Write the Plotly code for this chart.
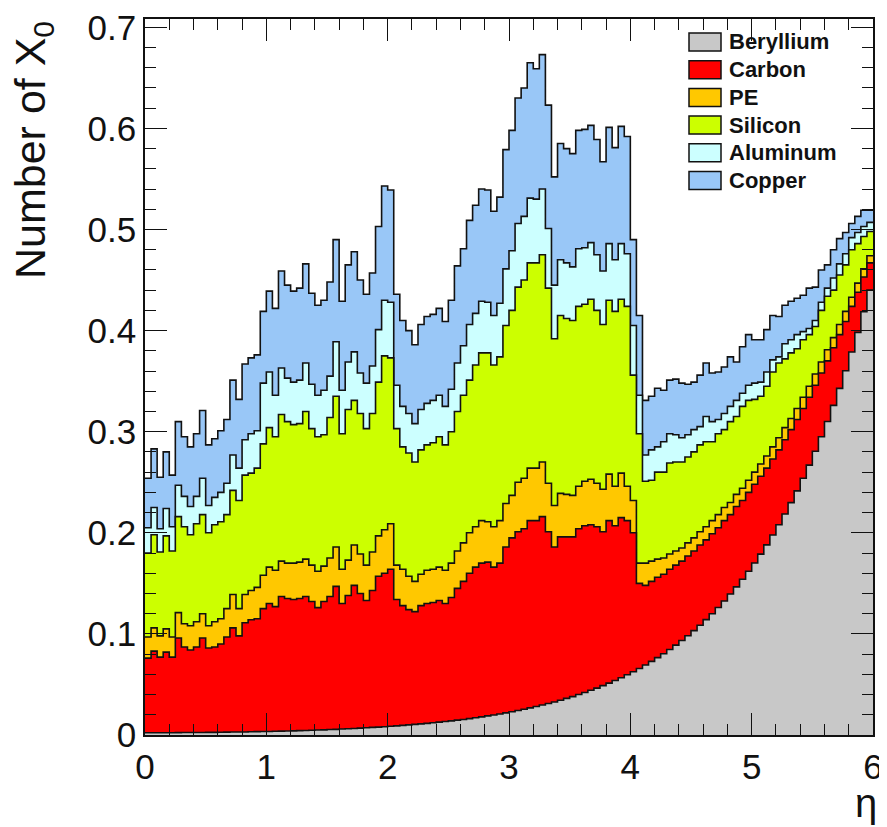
import plotly.graph_objects as go

# eta bin edges (120 bins of width 0.05)
eta_edges = [round(0.05 * i, 2) for i in range(121)]

# Cumulative stack levels (Number of X0) read per eta bin
beryllium = [0.0022,0.0022,0.0022,0.0022,0.0022,0.0023,0.0024,0.0024,0.0024,0.0025,
             0.0026,0.0026,0.0027,0.0028,0.0029,0.0029,0.0030,0.0032,0.0033,0.0034,
             0.0035,0.0037,0.0038,0.0040,0.0041,0.0043,0.0045,0.0047,0.0049,0.0051,
             0.0054,0.0056,0.0059,0.0062,0.0065,0.0068,0.0071,0.0075,0.0078,0.0082,
             0.0086,0.0090,0.0095,0.0100,0.0105,0.0110,0.0115,0.0121,0.0127,0.0134,
             0.0140,0.0147,0.0154,0.0162,0.0171,0.0179,0.0189,0.0198,0.0208,0.0219,
             0.0230,0.0243,0.0255,0.0268,0.0282,0.0296,0.0311,0.0327,0.0344,0.0362,
             0.0380,0.0400,0.0420,0.0442,0.0464,0.0488,0.0513,0.0539,0.0567,0.0596,
             0.0626,0.0658,0.0692,0.0728,0.0765,0.0804,0.0845,0.0889,0.0934,0.0982,
             0.1032,0.1085,0.1141,0.1200,0.1261,0.1326,0.1394,0.1465,0.1540,0.1619,
             0.1702,0.1789,0.1881,0.1978,0.2079,0.2186,0.2298,0.2415,0.2539,0.2669,
             0.2806,0.2950,0.3101,0.3260,0.3428,0.3603,0.3788,0.3982,0.4186,0.4401]

carbon = [0.076,0.083,0.077,0.082,0.077,0.096,0.087,0.084,0.087,0.096,
          0.086,0.087,0.090,0.097,0.106,0.098,0.111,0.114,0.115,0.125,
          0.130,0.127,0.137,0.135,0.134,0.135,0.137,0.132,0.126,0.132,
          0.137,0.147,0.130,0.138,0.148,0.140,0.133,0.143,0.157,0.160,
          0.164,0.134,0.128,0.124,0.122,0.128,0.130,0.131,0.133,0.130,
          0.136,0.145,0.152,0.160,0.166,0.170,0.171,0.166,0.170,0.186,
          0.195,0.201,0.204,0.212,0.212,0.216,0.201,0.186,0.196,0.196,
          0.196,0.204,0.207,0.208,0.206,0.201,0.212,0.207,0.215,0.212,
          0.200,0.150,0.148,0.152,0.156,0.159,0.164,0.168,0.172,0.177,
          0.182,0.188,0.193,0.199,0.205,0.212,0.218,0.226,0.232,0.240,
          0.248,0.256,0.264,0.273,0.282,0.292,0.302,0.312,0.323,0.334,
          0.346,0.358,0.370,0.383,0.396,0.409,0.424,0.438,0.453,0.467]

pe = [0.097,0.106,0.098,0.105,0.097,0.121,0.110,0.108,0.112,0.120,
      0.108,0.112,0.115,0.125,0.139,0.125,0.139,0.143,0.146,0.158,
      0.166,0.163,0.172,0.170,0.170,0.171,0.174,0.168,0.162,0.167,
      0.175,0.186,0.164,0.173,0.188,0.179,0.168,0.181,0.197,0.203,
      0.209,0.168,0.164,0.157,0.152,0.159,0.163,0.164,0.166,0.163,
      0.170,0.182,0.190,0.200,0.206,0.212,0.211,0.206,0.212,0.229,
      0.237,0.250,0.254,0.264,0.264,0.270,0.249,0.227,0.239,0.238,
      0.237,0.246,0.251,0.253,0.249,0.243,0.258,0.246,0.259,0.246,
      0.232,0.170,0.170,0.172,0.174,0.175,0.179,0.182,0.185,0.190,
      0.195,0.201,0.206,0.212,0.218,0.225,0.230,0.238,0.244,0.252,
      0.260,0.268,0.276,0.285,0.294,0.304,0.313,0.323,0.334,0.345,
      0.357,0.369,0.381,0.393,0.406,0.419,0.433,0.447,0.461,0.474]

silicon = [0.180,0.198,0.181,0.197,0.182,0.216,0.206,0.198,0.209,0.218,
           0.200,0.208,0.211,0.218,0.242,0.232,0.257,0.259,0.264,0.288,
           0.304,0.295,0.317,0.310,0.307,0.308,0.320,0.303,0.295,0.297,
           0.314,0.335,0.298,0.322,0.331,0.318,0.303,0.318,0.349,0.375,
           0.373,0.303,0.285,0.279,0.270,0.282,0.287,0.289,0.295,0.287,
           0.300,0.320,0.336,0.351,0.366,0.378,0.378,0.366,0.374,0.405,
           0.420,0.443,0.450,0.467,0.467,0.475,0.442,0.392,0.415,0.412,
           0.410,0.424,0.426,0.431,0.420,0.406,0.430,0.419,0.431,0.424,
           0.356,0.298,0.251,0.252,0.260,0.260,0.269,0.270,0.270,0.275,
           0.280,0.287,0.290,0.290,0.298,0.302,0.310,0.315,0.325,0.331,
           0.332,0.335,0.345,0.359,0.368,0.372,0.378,0.382,0.391,0.396,
           0.404,0.420,0.434,0.440,0.455,0.465,0.480,0.486,0.493,0.498]

aluminum = [0.205,0.225,0.204,0.224,0.206,0.247,0.236,0.226,0.236,0.254,
            0.227,0.235,0.240,0.249,0.277,0.264,0.292,0.298,0.301,0.348,
            0.359,0.336,0.363,0.353,0.349,0.351,0.368,0.347,0.336,0.341,
            0.355,0.389,0.341,0.369,0.379,0.358,0.348,0.365,0.401,0.430,
            0.428,0.346,0.325,0.318,0.308,0.322,0.328,0.331,0.336,0.325,
            0.342,0.368,0.385,0.406,0.417,0.429,0.428,0.415,0.427,0.461,
            0.479,0.506,0.513,0.531,0.530,0.540,0.501,0.445,0.470,0.467,
            0.463,0.481,0.482,0.487,0.475,0.459,0.486,0.470,0.486,0.476,
            0.405,0.336,0.277,0.282,0.285,0.290,0.298,0.297,0.294,0.297,
            0.302,0.305,0.315,0.310,0.312,0.318,0.325,0.331,0.338,0.346,
            0.348,0.349,0.359,0.371,0.374,0.387,0.391,0.396,0.399,0.402,
            0.410,0.428,0.442,0.452,0.466,0.476,0.492,0.497,0.503,0.507]

copper = [0.254,0.283,0.255,0.280,0.257,0.310,0.295,0.285,0.298,0.321,
          0.287,0.293,0.301,0.312,0.351,0.332,0.367,0.373,0.376,0.419,
          0.439,0.422,0.459,0.445,0.439,0.442,0.466,0.437,0.425,0.430,
          0.448,0.490,0.429,0.465,0.478,0.450,0.436,0.457,0.503,0.543,
          0.539,0.436,0.410,0.400,0.386,0.406,0.414,0.416,0.422,0.409,
          0.430,0.464,0.481,0.509,0.524,0.540,0.539,0.518,0.532,0.579,
          0.598,0.630,0.640,0.665,0.659,0.673,0.623,0.552,0.585,0.580,
          0.575,0.598,0.599,0.603,0.589,0.567,0.601,0.581,0.602,0.592,
          0.490,0.415,0.331,0.335,0.343,0.341,0.351,0.352,0.348,0.347,
          0.349,0.356,0.368,0.358,0.359,0.364,0.374,0.369,0.384,0.396,
          0.391,0.391,0.401,0.415,0.414,0.425,0.429,0.432,0.435,0.442,
          0.443,0.460,0.465,0.480,0.491,0.497,0.506,0.513,0.519,0.519]

materials = ["Beryllium", "Carbon", "PE", "Silicon", "Aluminum", "Copper"]
colors = {"Beryllium": "#c8c8c8", "Carbon": "#ff0000", "PE": "#ffc800",
          "Silicon": "#ccff00", "Aluminum": "#ccffff", "Copper": "#99c7f7"}
stack = {"Beryllium": beryllium, "Carbon": carbon, "PE": pe,
         "Silicon": silicon, "Aluminum": aluminum, "Copper": copper}

FONT = "Liberation Sans, Arial, Helvetica, sans-serif"
fig = go.Figure()

# draw from the top of the stack downwards, like a ROOT THStack
for name in reversed(materials):
    vals = stack[name]
    fig.add_trace(go.Scatter(
        x=eta_edges, y=list(vals) + [vals[-1]],
        mode="lines", line=dict(shape="hv", color="#111111", width=1.6),
        fill="tozeroy", fillcolor=colors[name], name=name, showlegend=False,
        hoverinfo="x+y+name"))

# the page body adds an 8 px offset; figure is sized so the plot area lands
# at page pixels x 145..873, y 19..735
OFF = 8
W, H = 887 - OFF, 827 - OFF
L, R, T, B = 145 - OFF, 873 - OFF, 19 - OFF, 735 - OFF
def px(x):
    return (x - OFF - L) / (R - L)
def py(y):
    return (B - (y - OFF)) / (B - T)

shapes, annotations = [], []
for k, name in enumerate(materials):
    yc = 42 + 27.7 * k
    shapes.append(dict(type="rect", xref="paper", yref="paper",
                       x0=px(689), x1=px(721), y0=py(yc + 9), y1=py(yc - 9),
                       fillcolor=colors[name], line=dict(color="#111111", width=1.5),
                       layer="above"))
    annotations.append(dict(xref="paper", yref="paper", x=px(727), y=py(yc),
                            xanchor="left", yanchor="middle", showarrow=False,
                            text="<b>%s</b>" % name,
                            font=dict(family=FONT, size=22, color="#111111")))

annotations.append(dict(xref="paper", yref="paper", x=px(33), y=1.0,
                        xanchor="center", yanchor="top", textangle=-90,
                        showarrow=False, text="Number of X<sub>0</sub>",
                        font=dict(family=FONT, size=43, color="#111111")))
annotations.append(dict(xref="paper", yref="paper", x=px(879), y=py(779),
                        xanchor="right", yanchor="top", showarrow=False,
                        text="η", font=dict(family=FONT, size=40, color="#111111")))

axis_common = dict(showline=True, linecolor="#111111", linewidth=1.5, mirror="ticks",
                   ticks="inside", tickcolor="#111111", tickwidth=1.3,
                   showgrid=False, zeroline=False, automargin=False,
                   ticklabeloverflow="allow",
                   tickfont=dict(family=FONT, size=35, color="#111111"))

fig.update_layout(
    width=W, height=H,
    margin=dict(l=L, r=W - R, t=T, b=H - B, autoexpand=False),
    paper_bgcolor="white", plot_bgcolor="white",
    xaxis=dict(range=[0, 6], dtick=1, tick0=0, ticklen=22,
               minor=dict(ticks="inside", dtick=0.2, ticklen=11, tickcolor="#111111"),
               **axis_common),
    yaxis=dict(range=[0, 0.7082], dtick=0.1, tick0=0, ticklen=22,
               minor=dict(ticks="inside", dtick=0.02, ticklen=11, tickcolor="#111111"),
               **axis_common),
    shapes=shapes, annotations=annotations, showlegend=False,
)

fig.write_html("out.html")
